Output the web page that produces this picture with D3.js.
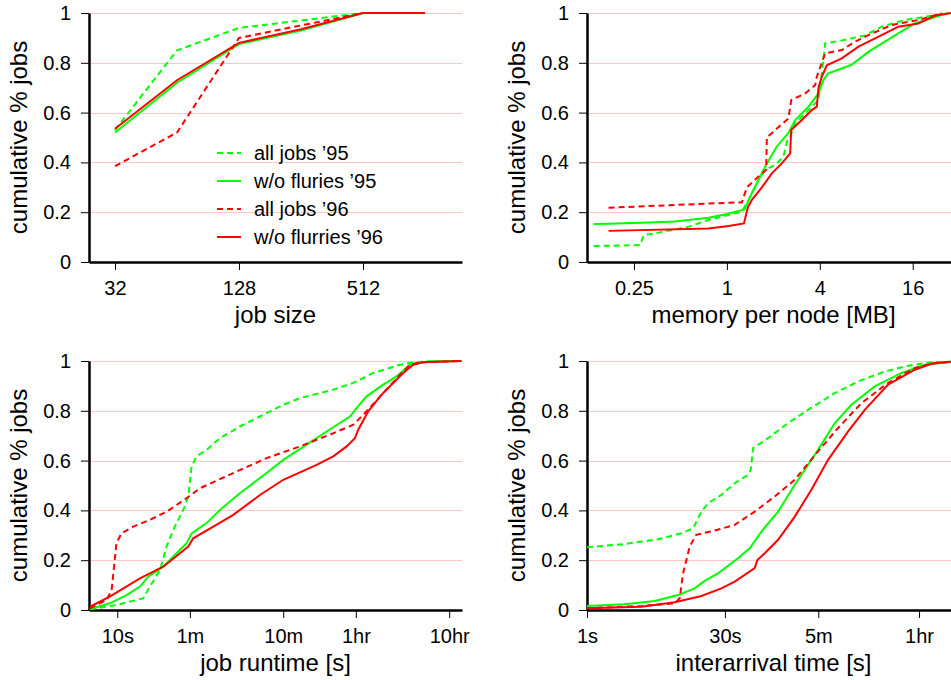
<!DOCTYPE html>
<html>
<head>
<meta charset="utf-8">
<script src="https://cdn.jsdelivr.net/npm/d3@7/dist/d3.min.js"></script>
<style>
    body { margin: 0; background: #fff; }
    svg { display: block; font-family: "Liberation Sans", Arial, sans-serif; }
</style>
</head>
<body>
<svg id="chart" width="951" height="680"></svg>
<script>
// legend / series names
const seriesNames = ["all jobs \u201995", "w/o fluries \u201995", "all jobs \u201996", "w/o flurries \u201996"];

const yTicks = [0, 0.2, 0.4, 0.6, 0.8, 1];
const yTickLabels = ["0", "0.2", "0.4", "0.6", "0.8", "1"];

// job size
const sizeTicks = [32, 128, 512];
const jobSizes = [32, 64, 128, 256, 512, 1024];
const sizeAll95 = [0.53, 0.85, 0.94, 0.97, 1, 1];
const sizeNoFl95 = [0.52, 0.72, 0.875, 0.93, 1, 1];
const sizeAll96 = [0.385, 0.52, 0.90, 0.95, 1, 1];
const sizeNoFl96 = [0.535, 0.73, 0.88, 0.935, 1, 1];

// memory per node [MB]
const memTicks = [0.25, 1, 4, 16];
const memAll95X = [0.137, 0.274, 0.289, 0.361, 0.565, 0.761, 1.251, 1.381, 1.603, 1.771, 2.055, 2.328, 2.446, 2.571, 2.770, 3.378, 3.921, 4.121, 4.225, 4.332, 5.552, 7.862, 10.08, 14.27, 19.23, 27.23];
const memAll95Y = [0.064, 0.068, 0.108, 0.118, 0.142, 0.169, 0.202, 0.249, 0.33, 0.37, 0.39, 0.423, 0.483, 0.503, 0.557, 0.61, 0.65, 0.758, 0.818, 0.878, 0.89, 0.91, 0.945, 0.972, 0.985, 0.999];
const memNoFl95X = [0.137, 0.171, 0.28, 0.46, 0.76, 1, 1.30, 1.45, 1.77, 2.1, 2.5, 2.77, 3.38, 3.92, 4.22, 4.54, 6.4, 8.3, 12.9, 16.5, 24.6, 28.3];
const memNoFl95Y = [0.153, 0.154, 0.158, 0.163, 0.178, 0.193, 0.211, 0.276, 0.383, 0.463, 0.517, 0.570, 0.624, 0.677, 0.731, 0.758, 0.791, 0.845, 0.918, 0.958, 0.992, 1.0];
const memAll96X = [0.171, 1.251, 1.348, 1.603, 1.797, 1.815, 2.055, 2.507, 2.610, 3.215, 3.732, 3.824, 4.121, 4.332, 5.552, 6.774, 8.264, 11.70, 17.41, 24.65];
const memAll96Y = [0.218, 0.24, 0.30, 0.343, 0.37, 0.50, 0.53, 0.577, 0.65, 0.677, 0.71, 0.744, 0.80, 0.838, 0.851, 0.885, 0.911, 0.952, 0.972, 0.999];
const memNoFl96X = [0.171, 0.761, 1.025, 1.289, 1.368, 1.452, 1.685, 1.956, 2.270, 2.571, 2.610, 3.059, 3.551, 3.824, 3.921, 4.121, 4.441, 5.552, 7.120, 9.127, 12.92, 17.41, 22.32, 28.33];
const memNoFl96Y = [0.125, 0.135, 0.145, 0.155, 0.22, 0.25, 0.30, 0.356, 0.396, 0.436, 0.53, 0.57, 0.61, 0.624, 0.70, 0.744, 0.79, 0.818, 0.865, 0.898, 0.945, 0.958, 0.99, 1.0];

// job runtime [s]
const runTicks = [10, 60, 600, 3600, 36000];
const runTickLabels = ["10s", "1m", "10m", "1hr", "10hr"];
const runAll95X = [5.1, 9.8, 19.0, 22.4, 28.7, 33.8, 39.8, 53.1, 57.7, 62.6, 70.8, 90.6, 126, 206, 398, 601, 906, 2062, 3379, 5534, 10690, 14840, 24300, 48900];
const runAll95Y = [0.003, 0.02, 0.047, 0.094, 0.161, 0.255, 0.322, 0.416, 0.456, 0.576, 0.617, 0.643, 0.69, 0.737, 0.791, 0.824, 0.851, 0.885, 0.912, 0.952, 0.985, 0.995, 0.999, 1.0];
const runNoFl95X = [5.1, 8.3, 12.6, 17.5, 21.5, 31.1, 43.2, 55.3, 62.6, 90.6, 126, 206, 398, 601, 1069, 1750, 3111, 3666, 4692, 7079, 9839, 13670, 17500, 24300, 48900];
const runNoFl95Y = [0.003, 0.027, 0.06, 0.094, 0.134, 0.174, 0.228, 0.268, 0.308, 0.349, 0.402, 0.469, 0.55, 0.603, 0.664, 0.717, 0.777, 0.811, 0.858, 0.905, 0.938, 0.985, 0.995, 0.999, 1.0];
const runAll96X = [5.1, 7.7, 8.7, 9.4, 9.8, 11.1, 14.8, 22.4, 33.8, 55.3, 76.9, 175, 398, 906, 2062, 3379, 4692, 7079, 10690, 13670, 17500, 48900];
const runAll96Y = [0.007, 0.04, 0.08, 0.201, 0.268, 0.308, 0.335, 0.362, 0.395, 0.449, 0.489, 0.55, 0.61, 0.657, 0.71, 0.744, 0.798, 0.871, 0.945, 0.985, 0.995, 1.0];
const runNoFl96X = [5.1, 8.3, 17.5, 31.1, 57.7, 65.2, 107, 175, 338, 601, 1368, 2062, 2866, 3520, 3821, 4888, 6792, 11590, 14840, 19000, 48900];
const runNoFl96Y = [0.013, 0.054, 0.127, 0.174, 0.255, 0.288, 0.335, 0.382, 0.462, 0.523, 0.583, 0.617, 0.657, 0.69, 0.724, 0.798, 0.865, 0.952, 0.985, 0.995, 1.0];

// interarrival time [s]
const arrTicks = [1, 30, 300, 3600];
const arrTickLabels = ["1s", "30s", "5m", "1hr"];
const arrAll95X = [1, 2.53, 5.76, 10.25, 13.7, 16.8, 19.8, 27.5, 38.2, 53.1, 56.7, 60.1, 86.9, 142.5, 233, 451, 801, 1546, 2750, 4888, 7880];
const arrAll95Y = [0.252, 0.265, 0.284, 0.308, 0.328, 0.395, 0.429, 0.462, 0.509, 0.543, 0.563, 0.65, 0.69, 0.751, 0.804, 0.871, 0.918, 0.958, 0.981, 0.995, 0.997];
const arrNoFl95X = [1, 2.53, 5.31, 9.44, 14.2, 18.2, 25.3, 41.5, 55.3, 73.8, 111.3, 168, 298, 451, 679, 1208, 2333, 4150, 7880];
const arrNoFl95Y = [0.016, 0.023, 0.036, 0.06, 0.087, 0.117, 0.147, 0.208, 0.248, 0.315, 0.395, 0.503, 0.643, 0.751, 0.824, 0.898, 0.952, 0.985, 0.997];
const arrAll96X = [1, 3.82, 8.7, 9.84, 10.68, 12.6, 14.8, 23.3, 38.2, 62.6, 102.5, 168, 298, 489, 869, 1679, 3243, 5309, 7880];
const arrAll96Y = [0.007, 0.016, 0.027, 0.047, 0.147, 0.255, 0.302, 0.319, 0.342, 0.395, 0.456, 0.523, 0.637, 0.731, 0.831, 0.912, 0.972, 0.992, 0.997];
const arrNoFl96X = [1, 3.82, 8.7, 16.8, 27.5, 38.2, 62.6, 66.8, 80.1, 111.3, 168, 253, 382, 626, 944, 1679, 3243, 4888, 7880];
const arrNoFl96Y = [0.007, 0.013, 0.031, 0.056, 0.087, 0.114, 0.168, 0.201, 0.228, 0.282, 0.375, 0.483, 0.603, 0.717, 0.804, 0.905, 0.965, 0.989, 0.997];

const SERIES_STYLE = [
    {color: '#00ff00', dash: '6,4'},
    {color: '#00ff00', dash: null},
    {color: '#ff0000', dash: '6,4'},
    {color: '#ff0000', dash: null}
];

class CdfPanel {
    constructor(svg, cfg) {
        this.cfg = cfg;
        this.WIDTH = 373;
        this.HEIGHT = 249;

        this.g = svg.append('g')
            .attr('transform', `translate(${cfg.left}, ${cfg.top})`);

        this.xScale = d3.scaleLog()
            .domain(cfg.xDomain)
            .range([0, this.WIDTH]);

        this.yScale = d3.scaleLinear()
            .domain([0, 1])
            .range([this.HEIGHT, 0]);

        this.drawChart();
    }

    drawChart() {
        this.drawGrid();
        this.drawAxis();
        this.drawLines();
        this.drawLabels();
    }

    drawGrid() {
        this.g.append('g')
            .selectAll('line')
            .data(yTicks.filter(d => d > 0))
            .join('line')
            .attr('x1', 0)
            .attr('x2', this.WIDTH)
            .attr('y1', d => Math.round(this.yScale(d)) + 0.5)
            .attr('y2', d => Math.round(this.yScale(d)) + 0.5)
            .attr('stroke', '#ffc8c8')
            .attr('stroke-width', 1);
    }

    drawAxis() {
        let cfg = this.cfg;

        let xAxis = d3.axisBottom(this.xScale)
            .tickValues(cfg.xTicks)
            .tickFormat((d, i) => cfg.xTickLabels ? cfg.xTickLabels[i] : d)
            .tickSize(8)
            .tickSizeOuter(0)
            .tickPadding(11);
        let xg = this.g.append('g')
            .attr('transform', `translate(0, ${this.HEIGHT})`)
            .call(xAxis);

        let yAxis = d3.axisLeft(this.yScale)
            .tickValues(yTicks)
            .tickFormat((d, i) => yTickLabels[i])
            .tickSize(8)
            .tickSizeOuter(0)
            .tickPadding(10);
        let yg = this.g.append('g').call(yAxis);

        [xg, yg].forEach(a => {
            a.select('.domain').attr('stroke', '#000').attr('stroke-width', 2.5);
            a.selectAll('.tick line').attr('stroke', '#000').attr('stroke-width', 1);
            a.selectAll('.tick text')
                .attr('fill', '#000')
                .style('font-size', '20px')
                .style('font-family', '"Liberation Sans", Arial, sans-serif');
        });
    }

    drawLines() {
        let line = d3.line()
            .x(d => this.xScale(d[0]))
            .y(d => this.yScale(d[1]));

        this.g.append('g')
            .selectAll('path')
            .data(this.cfg.series)
            .join('path')
            .attr('d', s => line(d3.zip(s.x, s.y)))
            .attr('fill', 'none')
            .attr('stroke', (s, i) => SERIES_STYLE[i].color)
            .attr('stroke-width', 2)
            .attr('stroke-dasharray', (s, i) => SERIES_STYLE[i].dash);
    }

    drawLabels() {
        this.g.append('text')
            .attr('x', this.WIDTH / 2)
            .attr('y', this.HEIGHT + 61)
            .attr('text-anchor', 'middle')
            .style('font-size', '24px')
            .text(this.cfg.xLabel);

        this.g.append('text')
            .attr('transform', `translate(-62, ${this.HEIGHT / 2}) rotate(-90)`)
            .attr('text-anchor', 'middle')
            .style('font-size', '24px')
            .text('cumulative % jobs');
    }

    drawLegend() {
        let rows = this.g.append('g')
            .attr('transform', 'translate(128, 140)')
            .selectAll('g')
            .data(seriesNames)
            .join('g')
            .attr('transform', (d, i) => `translate(0, ${i * 28})`);

        rows.append('line')
            .attr('x1', 0)
            .attr('x2', 24)
            .attr('stroke', (d, i) => SERIES_STYLE[i].color)
            .attr('stroke-width', 2)
            .attr('stroke-dasharray', (d, i) => SERIES_STYLE[i].dash);

        rows.append('text')
            .attr('x', 37)
            .attr('y', 7)
            .style('font-size', '20px')
            .text(d => d);
    }
}

const svg = d3.select('#chart');

let sizePanel = new CdfPanel(svg, {
    left: 89, top: 13,
    xDomain: [23.93, 1549],
    xTicks: sizeTicks,
    xLabel: 'job size',
    series: [
        {x: jobSizes, y: sizeAll95},
        {x: jobSizes, y: sizeNoFl95},
        {x: jobSizes, y: sizeAll96},
        {x: jobSizes, y: sizeNoFl96}
    ]
});
sizePanel.drawLegend();

new CdfPanel(svg, {
    left: 587, top: 13,
    xDomain: [0.124, 32.4],
    xTicks: memTicks,
    xLabel: 'memory per node [MB]',
    series: [
        {x: memAll95X, y: memAll95Y},
        {x: memNoFl95X, y: memNoFl95Y},
        {x: memAll96X, y: memAll96Y},
        {x: memNoFl96X, y: memNoFl96Y}
    ]
});

new CdfPanel(svg, {
    left: 89, top: 361,
    xDomain: [4.98, 49400],
    xTicks: runTicks,
    xTickLabels: runTickLabels,
    xLabel: 'job runtime [s]',
    series: [
        {x: runAll95X, y: runAll95Y},
        {x: runNoFl95X, y: runNoFl95Y},
        {x: runAll96X, y: runAll96Y},
        {x: runNoFl96X, y: runNoFl96Y}
    ]
});

new CdfPanel(svg, {
    left: 587, top: 361,
    xDomain: [1, 9880],
    xTicks: arrTicks,
    xTickLabels: arrTickLabels,
    xLabel: 'interarrival time [s]',
    series: [
        {x: arrAll95X, y: arrAll95Y},
        {x: arrNoFl95X, y: arrNoFl95Y},
        {x: arrAll96X, y: arrAll96Y},
        {x: arrNoFl96X, y: arrNoFl96Y}
    ]
});
</script>
</body>
</html>
